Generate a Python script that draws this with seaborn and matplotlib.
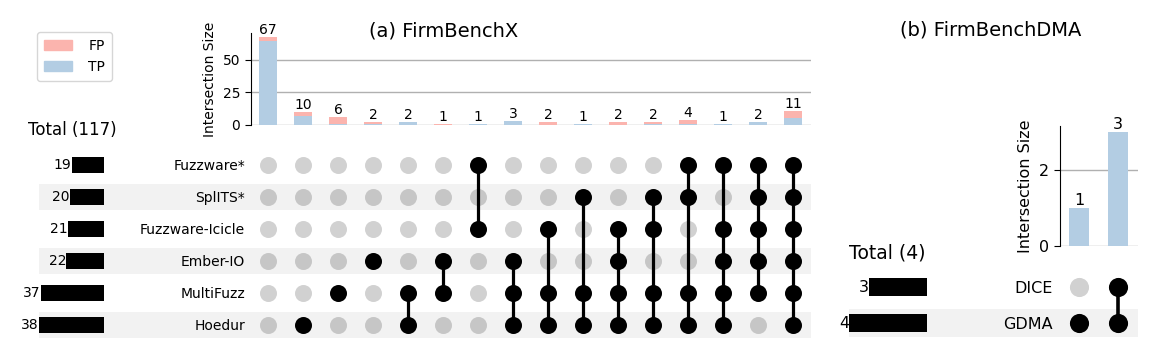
import numpy as np
import pandas as pd
import seaborn as sns
import matplotlib.pyplot as plt
from matplotlib.patches import Patch

# (a) FirmBenchX
x_methods = ["Fuzzware*", "SplITS*", "Fuzzware-Icicle", "Ember-IO", "MultiFuzz", "Hoedur"]
x_totals = [19, 20, 21, 22, 37, 38]
x_sets = [
    [],
    ["Hoedur"],
    ["MultiFuzz"],
    ["Ember-IO"],
    ["MultiFuzz", "Hoedur"],
    ["Ember-IO", "MultiFuzz"],
    ["Fuzzware*", "Fuzzware-Icicle"],
    ["Ember-IO", "MultiFuzz", "Hoedur"],
    ["Fuzzware-Icicle", "MultiFuzz", "Hoedur"],
    ["SplITS*", "MultiFuzz", "Hoedur"],
    ["Fuzzware-Icicle", "Ember-IO", "MultiFuzz", "Hoedur"],
    ["SplITS*", "Fuzzware-Icicle", "MultiFuzz", "Hoedur"],
    ["Fuzzware*", "SplITS*", "MultiFuzz", "Hoedur"],
    ["Fuzzware*", "Fuzzware-Icicle", "Ember-IO", "MultiFuzz", "Hoedur"],
    ["Fuzzware*", "SplITS*", "Fuzzware-Icicle", "Ember-IO", "MultiFuzz"],
    ["Fuzzware*", "SplITS*", "Fuzzware-Icicle", "Ember-IO", "MultiFuzz", "Hoedur"],
]
x_tp = [64, 7, 1, 1, 2, 0, 1, 3, 0, 1, 0, 1, 1, 1, 2, 5]
x_fp = [3, 3, 5, 1, 0, 1, 0, 0, 2, 0, 2, 1, 3, 0, 0, 6]
x_yticks = [0, 25, 50]

# (b) FirmBenchDMA
d_methods = ["DICE", "GDMA"]
d_totals = [3, 4]
d_sets = [["GDMA"], ["DICE", "GDMA"]]
d_tp = [1, 3]
d_fp = [0, 0]
d_yticks = [0, 2]

FP_COLOR = "#fbb4ae"
TP_COLOR = "#b3cde3"

W, H = 1163, 361
fig = plt.figure(figsize=(W / 100, H / 100), dpi=100)


def box(x0, y0, x1, y1):
    # pixel box -> figure fraction rect
    return [x0 / W, 1 - y1 / H, (x1 - x0) / W, (y1 - y0) / H]


def upset(methods, totals, sets, tp, fp, yticks, px, fs, dot_s, lw, total_text, total_xy, total_fs):
    n_rows = len(methods)
    n_cols = len(sets)

    # shading behind rows
    ax_sh = fig.add_axes(box(px["shade_x0"], px["m_y0"], px["m_x1"], px["m_y1"]), zorder=0)
    ax_sh.set_xlim(0, 1)
    ax_sh.set_ylim(n_rows - 0.5, -0.5)
    for i in range(1, n_rows, 2):
        ax_sh.axhspan(i - 0.4, i + 0.4, color="black", alpha=0.05, lw=0)
    ax_sh.axis("off")

    # intersection bars (FP stacked on TP)
    ax_b = fig.add_axes(box(px["m_x0"], px["b_y0"], px["m_x1"], px["b_y1"]), zorder=2)
    totals_int = [a + b for a, b in zip(tp, fp)]
    bar_df = pd.DataFrame({"col": range(n_cols), "total": totals_int, "tp": tp})
    sns.barplot(data=bar_df, x="col", y="total", color=FP_COLOR, width=0.5,
                saturation=1, ax=ax_b, zorder=3)
    sns.barplot(data=bar_df, x="col", y="tp", color=TP_COLOR, width=0.5,
                saturation=1, ax=ax_b, zorder=3)
    for c, t in enumerate(totals_int):
        ax_b.text(c, t, str(t), ha="center", va="bottom", fontsize=fs)
    ax_b.set_xlim(-0.5, n_cols - 0.5)
    ax_b.set_ylim(0, max(totals_int) * 1.05)
    ax_b.set_yticks(yticks)
    ax_b.tick_params(axis="y", labelsize=fs, length=4)
    ax_b.set_xticks([])
    ax_b.set_xlabel("")
    ax_b.set_ylabel("Intersection Size", fontsize=fs)
    ax_b.yaxis.grid(True, color="#b0b0b0", lw=1)
    ax_b.set_axisbelow(True)
    for s in ["top", "right", "bottom"]:
        ax_b.spines[s].set_visible(False)
    ax_b.patch.set_alpha(0)

    # matrix
    ax_m = fig.add_axes(box(px["m_x0"], px["m_y0"], px["m_x1"], px["m_y1"]), zorder=2)
    rows, cols, active = [], [], []
    for c, members in enumerate(sets):
        for r, m in enumerate(methods):
            rows.append(r)
            cols.append(c)
            active.append(m in members)
    dot_df = pd.DataFrame({"row": rows, "col": cols, "active": active})
    sns.scatterplot(data=dot_df[~dot_df.active], x="col", y="row", color="black",
                    alpha=0.18, s=dot_s, linewidth=0, ax=ax_m, zorder=2)
    sns.scatterplot(data=dot_df[dot_df.active], x="col", y="row", color="black",
                    s=dot_s, linewidth=0, ax=ax_m, zorder=3)
    for c, members in enumerate(sets):
        idx = [methods.index(m) for m in members]
        if len(idx) > 1:
            ax_m.vlines(c, min(idx), max(idx), color="black", lw=lw, zorder=2)
    ax_m.set_xlim(-0.5, n_cols - 0.5)
    ax_m.set_ylim(n_rows - 0.5, -0.5)
    ax_m.set_yticks(range(n_rows))
    ax_m.set_yticklabels(methods, fontsize=fs)
    ax_m.tick_params(axis="y", length=0, pad=px["label_pad"])
    ax_m.set_xticks([])
    ax_m.set_xlabel("")
    ax_m.set_ylabel("")
    for s in ax_m.spines.values():
        s.set_visible(False)
    ax_m.patch.set_alpha(0)

    # set totals
    ax_t = fig.add_axes(box(px["t_x0"], px["m_y0"], px["t_x1"], px["m_y1"]), zorder=2)
    tot_df = pd.DataFrame({"method": methods, "total": totals})
    sns.barplot(data=tot_df, x="total", y="method", color="black", width=0.5,
                saturation=1, orient="h", ax=ax_t)
    for r, t in enumerate(totals):
        ax_t.text(t, r, str(t), ha="right", va="center", fontsize=fs, clip_on=False)
    ax_t.set_xlim(max(totals), 0)
    ax_t.set_ylim(n_rows - 0.5, -0.5)
    ax_t.axis("off")
    ax_t.patch.set_alpha(0)

    fig.text(total_xy[0] / W, 1 - total_xy[1] / H, total_text, ha="center",
             va="center", fontsize=total_fs)


upset(x_methods, x_totals, x_sets, x_tp, x_fp, x_yticks,
      dict(shade_x0=39, m_x0=250.5, m_x1=810.5, m_y0=149, m_y1=341,
           b_y0=33, b_y1=125, t_x0=39, t_x1=104, label_pad=4),
      fs=10, dot_s=150, lw=2.3, total_text="Total (117)", total_xy=(72, 130), total_fs=12)

upset(d_methods, d_totals, d_sets, d_tp, d_fp, d_yticks,
      dict(shade_x0=849, m_x0=1059.5, m_x1=1137.5, m_y0=269, m_y1=341,
           b_y0=126, b_y1=246, t_x0=849, t_x1=927, label_pad=5),
      fs=11.5, dot_s=190, lw=2.6, total_text="Total (4)", total_xy=(887, 253), total_fs=13.5)

fig.text(444 / W, 1 - 31 / H, "(a) FirmBenchX", ha="center", va="center", fontsize=14)
fig.text(991 / W, 1 - 30 / H, "(b) FirmBenchDMA", ha="center", va="center", fontsize=14)

fig.legend(handles=[Patch(color=FP_COLOR, label="FP"), Patch(color=TP_COLOR, label="TP")],
           loc="upper left", bbox_to_anchor=(37 / W, 1 - 32 / H), fontsize=10,
           frameon=True, borderaxespad=0, handletextpad=1.2, borderpad=0.5)

fig.savefig("out.png", dpi=100)
